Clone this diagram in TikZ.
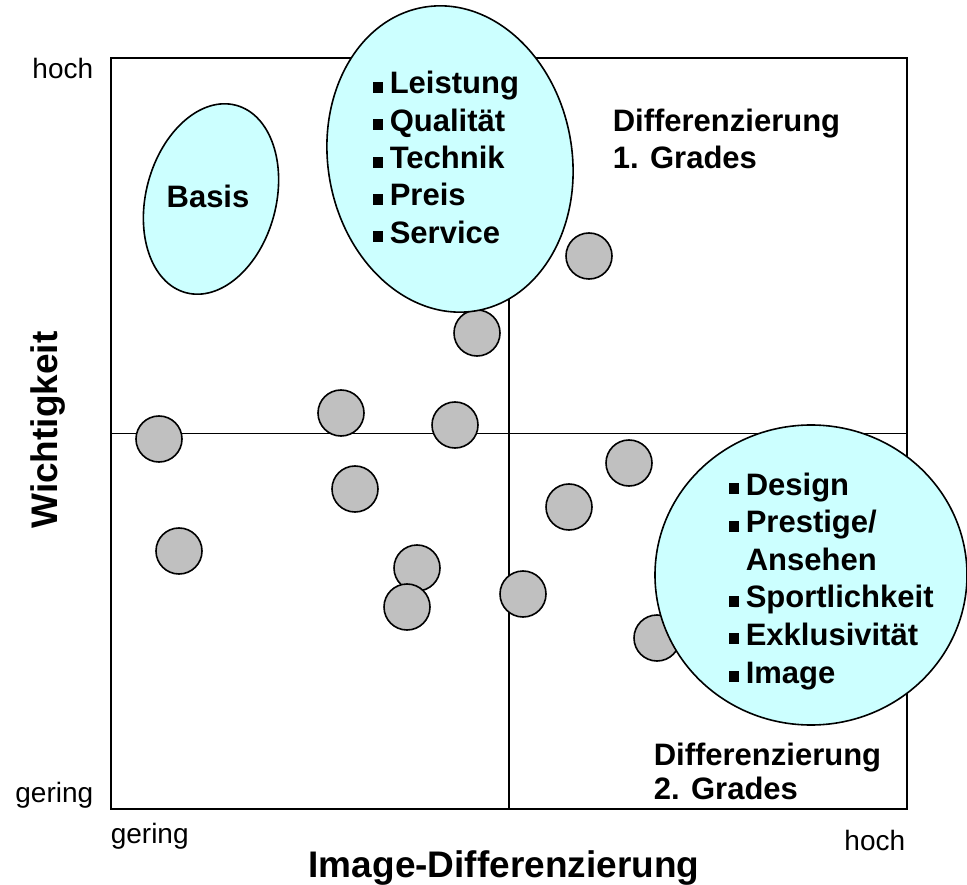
\documentclass[tikz,border=0pt]{standalone}
\usepackage{fontspec}
\setmainfont{Liberation Sans}
\usepackage{tikz}
\usetikzlibrary{shapes.geometric}

\definecolor{clustercyan}{RGB}{204,255,255}
\definecolor{dotgray}{RGB}{192,192,192}
\newcommand{\blt}{\rule[1pt]{10pt}{11pt}\hspace{7pt}}

\begin{document}
\begin{tikzpicture}[x=1pt, y=-1pt, line width=1.6pt,
  dot/.style={circle, draw, fill=dotgray, minimum size=46pt, inner sep=0pt},
  blob/.style={ellipse, draw, fill=clustercyan, inner sep=0pt},
  item/.style={anchor=base west, inner sep=0pt, font=\fontsize{31}{37}\selectfont\bfseries},
  quadlabel/.style={anchor=north west, inner sep=0pt, align=left},
  scalelabel/.style={inner sep=0pt, font=\fontsize{28}{34}\selectfont},
  axislabel/.style={anchor=base, inner sep=0pt, font=\fontsize{37}{44}\selectfont\bfseries}]
\useasboundingbox (0,0) rectangle (967,885);

% Portfolio frame and quadrants
\node[draw, anchor=north west, minimum width=796pt, minimum height=751pt, inner sep=0pt] (frame) at (110,57) {};
\draw (frame.north) -- (frame.south);
\draw (frame.west) -- (frame.east);

% Products
\foreach \x/\y [count=\i] in {589/256, 477/333, 341/413, 455/425, 159/439, 629/463, 355/489,
  569/507, 179/551, 417/568, 523/594, 407/607, 657/638}
  \node[dot] (c\i) at (\x,\y) {};

% Clusters
\node[blob, minimum width=130pt, minimum height=194pt, rotate=-15] (basis) at (211,199) {};
\node[blob, minimum width=244pt, minimum height=308pt, rotate=10] (core) at (450,159) {};
\node[blob, minimum width=312pt, minimum height=300pt] (image) at (811,575) {};

\node[item, anchor=base] (basistext) at (208,208) {Basis};
\foreach \t [count=\i from 0] in {Leistung, Qualität, Technik, Preis, Service}
  \node[item] (core\i) at (372,{94+37.3*\i}) {\blt\t};
\foreach \t [count=\i from 0] in {\blt Design, \blt Prestige/, \hphantom{\blt}Ansehen,
  \blt Sportlichkeit, \blt Exklusivität, \blt Image}
  \node[item] (image\i) at (728,{495+37.6*\i}) {\t};

% Quadrant labels
\node[quadlabel, font=\fontsize{31}{37}\selectfont\bfseries] (diff1) at (612,108.5) {Differenzierung\\1. Grades};
\node[quadlabel, font=\fontsize{31}{34}\selectfont\bfseries] (diff2) at (653,742.5) {Differenzierung\\2. Grades};

% Axes
\node[scalelabel, anchor=base east] (yhigh) at (94,79) {hoch};
\node[scalelabel, anchor=base east] (ylow) at (94,802) {gering};
\node[scalelabel, anchor=base west] (xlow) at (110,843) {gering};
\node[scalelabel, anchor=base east] (xhigh) at (906,850) {hoch};
\node[axislabel] (xtitle) at (504,877) {Image-Differenzierung};
\node[axislabel, rotate=90] (ytitle) at (57,430) {Wichtigkeit};
\end{tikzpicture}
\end{document}
